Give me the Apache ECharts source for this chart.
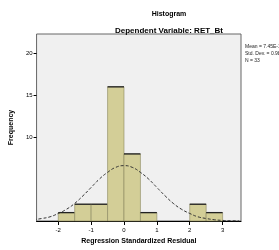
<!DOCTYPE html>
<html>
<head>
<meta charset="utf-8">
<script src="https://cdn.jsdelivr.net/npm/echarts@6/dist/echarts.min.js"></script>
<style>
  html, body { margin: 0; padding: 0; background: #fff; }
  #chart { width: 279px; height: 250px; }
</style>
</head>
<body>
<div id="chart"></div>
<script>
// histogram bins (start of bin, width 0.5) and counts
var binStart = [-2, -1.5, -1, -0.5, 0, 0.5, 1, 1.5, 2, 2.5];
var binCount = [1, 2, 2, 16, 8, 1, 0, 0, 2, 1];
var binWidth = 0.5;

// normal curve
var curveX = [-2.75, -2.5, -2.25, -2, -1.75, -1.5, -1.25, -1, -0.75, -0.5, -0.25, 0, 0.25, 0.5, 0.75, 1, 1.25, 1.5, 1.75, 2, 2.25, 2.5, 2.75, 3, 3.25, 3.5];
var curveY = [0.15, 0.3, 0.5, 0.9, 1.4, 2.1, 3.0, 4.0, 5.0, 5.8, 6.4, 6.6, 6.4, 5.8, 5.0, 4.0, 3.0, 2.1, 1.4, 0.9, 0.5, 0.3, 0.15, 0.07, 0.03, 0.01];

var xTicks = [-2, -1, 0, 1, 2, 3];
var yLabels = [10, 15, 20];
var statsText = ['Mean = 7.45E-16', 'Std. Dev. = 0.984', 'N = 33'];

var font = 'Arial, "Liberation Sans", sans-serif';

var bars = binStart.map(function (s, i) { return [s, s + binWidth, binCount[i]]; })
  .filter(function (d) { return d[2] > 0; });
var curve = curveX.map(function (x, i) { return [x, curveY[i]]; });

var chart = echarts.init(document.getElementById('chart'), null, { renderer: 'canvas' });
chart.setOption({
  backgroundColor: '#ffffff',
  animation: false,
  title: [{
    text: 'Histogram',
    left: 164, top: 6, textAlign: 'center',
    textStyle: { fontFamily: font, fontSize: 7, fontWeight: 'bold', color: '#000' }
  }, {
    text: 'Dependent Variable: RET_Bt',
    left: 164, top: 22, textAlign: 'center',
    textStyle: { fontFamily: font, fontSize: 8, fontWeight: 'bold', color: '#000' }
  }],
  graphic: [{
    type: 'text', left: 245, top: 43,
    style: { text: statsText.join('\n'), font: '5px ' + font, fill: '#222', lineHeight: 7 }
  }],
  grid: {
    left: 33, right: 38, top: 34, bottom: 24,
    show: true, backgroundColor: '#f0f0f0', borderColor: '#666', borderWidth: 1
  },
  xAxis: {
    type: 'value', min: -2.66, max: 3.56,
    name: 'Regression Standardized Residual',
    nameLocation: 'middle', nameGap: 17,
    nameTextStyle: { fontFamily: font, fontSize: 7, fontWeight: 'bold', color: '#000' },
    axisLine: { show: true, onZero: false, lineStyle: { color: '#000', width: 1.2 } },
    axisTick: {
      show: true, length: 4, lineStyle: { color: '#000' },
      customValues: xTicks
    },
    axisLabel: {
      fontFamily: font, fontSize: 6, color: '#000', margin: 6,
      customValues: xTicks
    },
    splitLine: { show: false }
  },
  yAxis: {
    type: 'value', min: 0, max: 22.3,
    name: 'Frequency',
    nameLocation: 'middle', nameGap: 14, nameRotate: 90,
    nameTextStyle: { fontFamily: font, fontSize: 7, fontWeight: 'bold', color: '#000' },
    axisLine: { show: false, onZero: false },
    axisTick: { show: true, length: 3, lineStyle: { color: '#000' }, customValues: yLabels },
    axisLabel: {
      fontFamily: font, fontSize: 6, color: '#000', margin: 4,
      customValues: yLabels
    },
    splitLine: { show: false }
  },
  series: [{
    type: 'custom',
    data: bars,
    renderItem: function (params, api) {
      var p0 = api.coord([api.value(0), api.value(2)]);
      var p1 = api.coord([api.value(1), 0]);
      return {
        type: 'group',
        children: [{
          type: 'rect',
          shape: { x: p0[0], y: p0[1], width: p1[0] - p0[0], height: p1[1] - p0[1] },
          style: { fill: '#d3ce97', stroke: '#8a8660', lineWidth: 0.6 }
        }, {
          type: 'line',
          shape: { x1: p0[0], y1: p0[1], x2: p1[0], y2: p0[1] },
          style: { stroke: '#222', lineWidth: 1.3 }
        }]
      };
    },
    z: 2
  }, {
    type: 'line',
    data: curve,
    showSymbol: false,
    smooth: true,
    lineStyle: { color: '#333', width: 1, type: [3, 2] },
    z: 3
  }]
});
</script>
</body>
</html>
